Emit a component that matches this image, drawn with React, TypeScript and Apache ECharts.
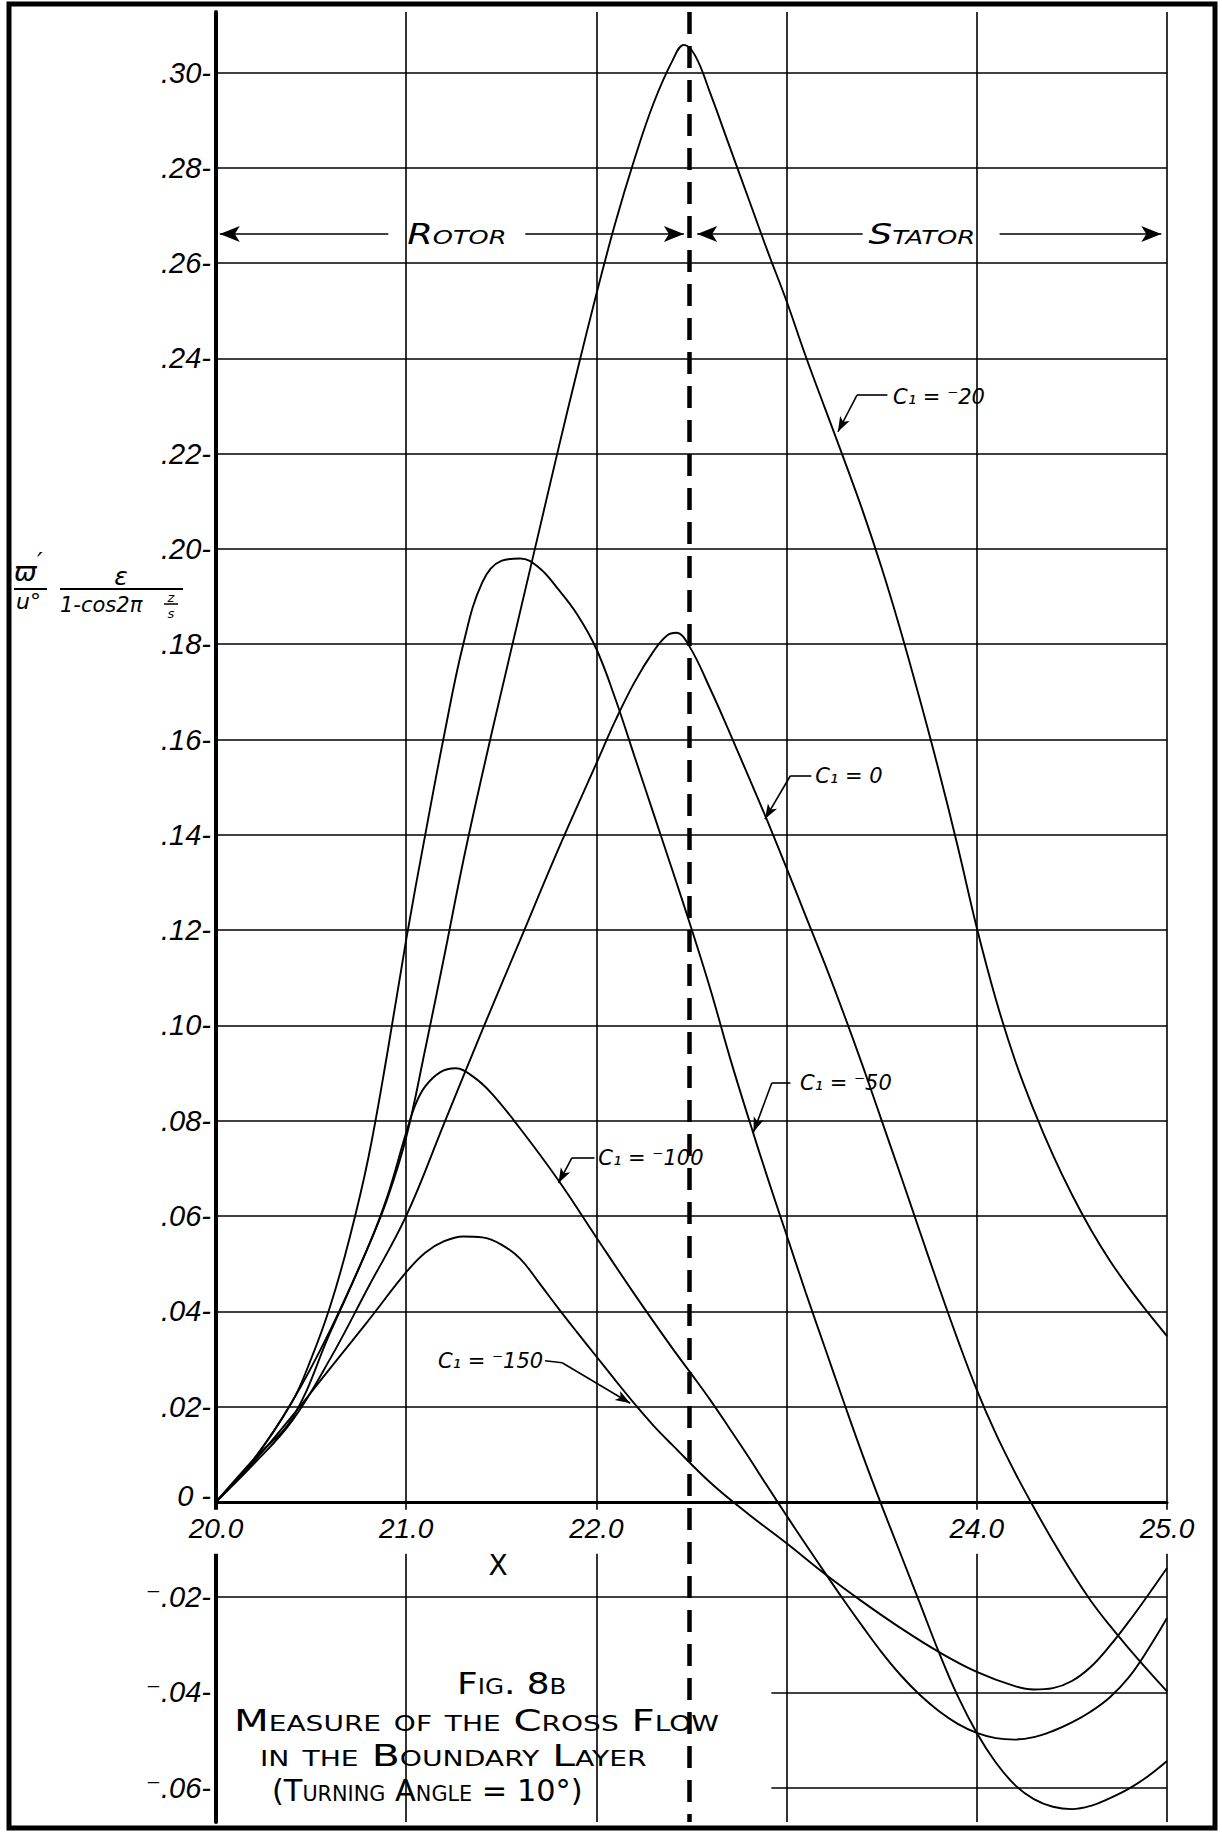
import React, { useEffect, useRef } from "react";
import * as echarts from "echarts";

const WIDTH = 1222;
const HEIGHT = 1837;

// ---------------- data ----------------
const xMin = 20;
const xMax = 25;
const yMin = -0.0672;
const yMax = 0.3127;
const xTickLabels = [20, 21, 22, 24, 25];
const yTickLabels = [-0.06, -0.04, -0.02, 0, 0.02, 0.04, 0.06, 0.08, 0.1, 0.12, 0.14, 0.16, 0.18, 0.2, 0.22, 0.24, 0.26, 0.28, 0.3];
const yGridFull = [-0.02, 0.02, 0.04, 0.06, 0.08, 0.1, 0.12, 0.14, 0.16, 0.18, 0.2, 0.22, 0.24, 0.26, 0.28, 0.3];
const yGridPartial = [-0.04, -0.06];
const partialGridStart = 22.92;
const rotorStatorBoundary = 22.49;
const seriesNames = ["C₁ = ⁻20", "C₁ = 0", "C₁ = ⁻50", "C₁ = ⁻100", "C₁ = ⁻150"];

const curveM20 = [
  [20.0, 0], [20.2, 0.009], [20.4, 0.021], [20.6, 0.036], [20.8, 0.0535], [20.9, 0.0635], [21.0, 0.0765],
  [21.1, 0.095], [21.2, 0.1145], [21.3, 0.1345], [21.4, 0.1527], [21.5, 0.17], [21.6, 0.187], [21.7, 0.204],
  [21.8, 0.221], [21.9, 0.2375], [22.0, 0.2535], [22.1, 0.2685], [22.2, 0.2818], [22.3, 0.2935], [22.4, 0.3025],
  [22.46, 0.3058], [22.52, 0.3035], [22.6, 0.2955], [22.7, 0.2845], [22.8, 0.2735], [22.9, 0.2625], [23.0, 0.252],
  [23.1, 0.2405], [23.2, 0.2297], [23.3, 0.219], [23.4, 0.208], [23.5, 0.196], [23.6, 0.1828], [23.7, 0.1685],
  [23.8, 0.1535], [23.9, 0.1375], [24.0, 0.1205], [24.1, 0.1055], [24.2, 0.0928], [24.3, 0.0822], [24.4, 0.0728],
  [24.5, 0.0645], [24.6, 0.0571], [24.7, 0.0506], [24.8, 0.0449], [24.9, 0.0397], [25.0, 0.0348],
];
const curve0 = [
  [20.0, 0], [20.2, 0.008], [20.4, 0.017], [20.6, 0.03], [20.8, 0.045], [21.0, 0.06], [21.2, 0.0795],
  [21.4, 0.099], [21.6, 0.118], [21.8, 0.137], [22.0, 0.155], [22.1, 0.164], [22.2, 0.172], [22.3, 0.1785],
  [22.37, 0.1818], [22.42, 0.1824], [22.49, 0.1795], [22.6, 0.1705], [22.7, 0.1615], [22.8, 0.1522], [22.9, 0.1428],
  [23.0, 0.133], [23.1, 0.123], [23.2, 0.113], [23.3, 0.1025], [23.4, 0.0915], [23.5, 0.08], [23.6, 0.0685],
  [23.7, 0.0568], [23.8, 0.0452], [23.9, 0.034], [24.0, 0.0235], [24.1, 0.0143], [24.2, 0.0062], [24.3, -0.0012],
  [24.4, -0.0082], [24.5, -0.0148], [24.6, -0.0208], [24.7, -0.026], [24.8, -0.0308], [24.9, -0.0354], [25.0, -0.0398],
];
const curveM50 = [
  [20.0, 0], [20.2, 0.009], [20.4, 0.021], [20.5, 0.03], [20.6, 0.041], [20.7, 0.055], [20.8, 0.072],
  [20.9, 0.094], [21.0, 0.118], [21.1, 0.14], [21.2, 0.161], [21.3, 0.18], [21.4, 0.193], [21.5, 0.1975],
  [21.6, 0.198], [21.7, 0.196], [21.8, 0.1915], [21.9, 0.1862], [22.0, 0.179], [22.1, 0.1685], [22.2, 0.1565],
  [22.3, 0.1445], [22.4, 0.1325], [22.5, 0.1203], [22.6, 0.1075], [22.7, 0.0935], [22.8, 0.0805], [22.9, 0.068],
  [23.0, 0.056], [23.1, 0.044], [23.2, 0.0325], [23.3, 0.021], [23.4, 0.0098], [23.5, -0.0008], [23.6, -0.011],
  [23.7, -0.0212], [23.8, -0.0315], [23.9, -0.0408], [24.0, -0.0485], [24.1, -0.0547], [24.2, -0.0594],
  [24.3, -0.0624], [24.4, -0.064], [24.5, -0.0645], [24.6, -0.0638], [24.7, -0.0622], [24.8, -0.0602],
  [24.9, -0.0576], [25.0, -0.0544],
];
const curveM100 = [
  [20.0, 0], [20.2, 0.009], [20.4, 0.0175], [20.6, 0.0355], [20.8, 0.0535], [20.9, 0.064], [21.0, 0.0775],
  [21.05, 0.0835], [21.1, 0.0872], [21.18, 0.0902], [21.26, 0.091], [21.35, 0.0893], [21.45, 0.0857],
  [21.6, 0.0783], [21.8, 0.0675], [22.0, 0.0555], [22.2, 0.0436], [22.4, 0.0322], [22.5, 0.0268], [22.6, 0.0213],
  [22.7, 0.0154], [22.8, 0.0094], [22.9, 0.0032], [23.0, -0.0029], [23.1, -0.0089], [23.2, -0.0148], [23.3, -0.0206],
  [23.4, -0.0262], [23.5, -0.0316], [23.6, -0.0364], [23.7, -0.0405], [23.8, -0.0439], [23.9, -0.0466],
  [24.0, -0.0485], [24.1, -0.0496], [24.2, -0.0499], [24.3, -0.0494], [24.4, -0.0481], [24.5, -0.0463],
  [24.6, -0.044], [24.7, -0.041], [24.8, -0.0368], [24.9, -0.031], [25.0, -0.0244],
];
const curveM150 = [
  [20.0, 0], [20.2, 0.0085], [20.4, 0.018], [20.6, 0.028], [20.8, 0.038], [21.0, 0.0482], [21.1, 0.0523],
  [21.2, 0.0547], [21.3, 0.0557], [21.4, 0.0555], [21.5, 0.054], [21.6, 0.051], [21.7, 0.0459], [21.8, 0.0406],
  [21.9, 0.0355], [22.0, 0.0305], [22.1, 0.0255], [22.2, 0.0206], [22.3, 0.016], [22.4, 0.0119], [22.6, 0.004],
  [22.8, -0.0026], [23.0, -0.0087], [23.2, -0.0151], [23.4, -0.021], [23.6, -0.0265], [23.8, -0.0315],
  [24.0, -0.0357], [24.2, -0.0387], [24.3, -0.0394], [24.4, -0.0391], [24.5, -0.0376], [24.6, -0.0346],
  [24.7, -0.0302], [24.8, -0.0251], [24.9, -0.0196], [25.0, -0.0139],
];
const curves = [curveM20, curve0, curveM50, curveM100, curveM150];

// ---------------- layout (annotation anchors in data units) ----------------
const regionY = 0.2661;
const regionArrows = [
  [[20.906, regionY], [20.02, regionY]],
  [[21.626, regionY], [22.46, regionY]],
  [[23.4, regionY], [22.53, regionY]],
  [[24.12, regionY], [24.97, regionY]],
];
const regionTexts = [
  { text: "Rotor", at: [21.005, regionY], width: 99 },
  { text: "Stator", at: [23.43, regionY], width: 107 },
];
const curveLabels = [
  { text: seriesNames[0], at: [23.56, 0.2319], align: "left", leader: [[23.53, 0.2323], [23.37, 0.2323], [23.27, 0.2246]] },
  { text: seriesNames[1], at: [23.15, 0.1524], align: "left", leader: [[23.13, 0.1524], [23.02, 0.1524], [22.886, 0.1433]] },
  { text: seriesNames[2], at: [23.07, 0.0879], align: "left", leader: [[23.02, 0.0879], [22.922, 0.0879], [22.826, 0.0776]] },
  { text: seriesNames[3], at: [22.01, 0.0722], align: "left", leader: [[21.99, 0.0722], [21.871, 0.0722], [21.801, 0.0669]] },
  { text: seriesNames[4], at: [21.72, 0.0296], align: "right", leader: [[21.73, 0.0296], [21.82, 0.0292], [22.178, 0.0207]] },
];

const NUM_FONT = "'Liberation Sans', 'DejaVu Sans', Arial, sans-serif";
const LET_FONT = "'DejaVu Sans', sans-serif";

function fmtY(v: number): string {
  const n = Math.round(v * 100);
  if (n === 0) return "{z|0 -}";
  const s = "." + String(Math.abs(n)).padStart(2, "0");
  return (n < 0 ? "⁻" : "") + s + "-";
}

function measure(text: string, font: string): number {
  const c = document.createElement("canvas").getContext("2d");
  if (!c) return 1;
  c.font = font;
  return c.measureText(text).width || 1;
}

function lineItem(a: number[], b: number[], arrow: boolean, size: number[]) {
  return [
    { coord: a, symbol: "none" },
    arrow ? { coord: b, symbol: "arrow", symbolSize: size } : { coord: b, symbol: "none" },
  ];
}

function buildOption(xOffset: number) {
  const gridLines: any[] = [];
  yGridFull.forEach((v) => gridLines.push([{ coord: [xMin, v] }, { coord: [xMax, v] }]));
  yGridPartial.forEach((v) => gridLines.push([{ coord: [partialGridStart, v] }, { coord: [xMax, v] }]));

  const arrowLines: any[] = [];
  regionArrows.forEach(([a, b]) => arrowLines.push(lineItem(a, b, true, [12, 20])));
  curveLabels.forEach((cl) => {
    for (let i = 0; i < cl.leader.length - 1; i++) {
      arrowLines.push(lineItem(cl.leader[i], cl.leader[i + 1], i === cl.leader.length - 2, [8, 15]));
    }
  });

  const curveSeries = curves.map((d, i) => ({
    name: seriesNames[i],
    type: "line",
    data: d,
    smooth: 0.4,
    symbol: "none",
    showSymbol: false,
    silent: true,
    lineStyle: { color: "#000", width: 1.9 },
    z: 3,
  }));

  return {
    animation: false,
    backgroundColor: "#ffffff",
    grid: {
      left: 216,
      right: WIDTH - 1167,
      top: 12,
      bottom: HEIGHT - 1822,
      containLabel: false,
      outerBoundsMode: "none",
    },
    xAxis: {
      type: "value",
      min: xMin,
      max: xMax,
      interval: 1,
      z: 5,
      position: "bottom",
      offset: xOffset,
      axisLine: { show: true, onZero: false, lineStyle: { color: "#000", width: 3 } },
      axisTick: { show: false },
      splitLine: { show: true, lineStyle: { color: "#000", width: 1.6 } },
      axisLabel: {
        customValues: xTickLabels,
        formatter: (v: number) => v.toFixed(1),
        color: "#000",
        fontFamily: NUM_FONT,
        fontStyle: "italic",
        fontSize: 28,
        margin: 8,
        padding: [4, 1, 10, 1],
        lineHeight: 30,
        backgroundColor: "#ffffff",
      },
    },
    yAxis: {
      type: "value",
      min: yMin,
      max: yMax,
      z: 2,
      axisLine: { show: true, onZero: false, lineStyle: { color: "#000", width: 4 } },
      axisTick: { show: false },
      splitLine: { show: false },
      axisLabel: {
        customValues: yTickLabels,
        formatter: fmtY,
        color: "#000",
        fontFamily: NUM_FONT,
        fontStyle: "italic",
        fontSize: 29,
        margin: 5,
        rich: {
          z: {
            color: "#000",
            fontFamily: NUM_FONT,
            fontStyle: "italic",
            fontSize: 29,
            lineHeight: 32,
            padding: [0, 0, 12, 0],
          },
        },
      },
    },
    series: [
      {
        name: "grid",
        type: "line",
        data: [],
        silent: true,
        z: 2,
        markLine: {
          silent: true,
          animation: false,
          symbol: ["none", "none"],
          label: { show: false },
          lineStyle: { color: "#000", width: 1.6, type: "solid" },
          emphasis: { disabled: true },
          data: gridLines,
        },
      },
      {
        name: "boundary",
        type: "line",
        data: [],
        silent: true,
        z: 4,
        markLine: {
          silent: true,
          animation: false,
          symbol: ["none", "none"],
          label: { show: false },
          lineStyle: { color: "#000", width: 4.5, type: [22, 12] },
          emphasis: { disabled: true },
          data: [[{ coord: [rotorStatorBoundary, yMax] }, { coord: [rotorStatorBoundary, yMin] }]],
        },
      },
      {
        name: "arrows",
        type: "line",
        data: [],
        silent: true,
        z: 4,
        markLine: {
          silent: true,
          animation: false,
          symbol: ["none", "none"],
          label: { show: false },
          lineStyle: { color: "#000", width: 1.6, type: "solid" },
          itemStyle: { color: "#000" },
          emphasis: { disabled: true },
          data: arrowLines,
        },
      },
      ...curveSeries,
    ],
  };
}

function textEl(text: string, x: number, y: number, font: string, align = "left", scaleX = 1) {
  return {
    type: "text",
    x,
    y,
    scaleX,
    z: 10,
    silent: true,
    style: {
      text,
      font,
      fill: "#000",
      align,
      verticalAlign: "middle",
      textAlign: align,
      textVerticalAlign: "middle",
    },
  };
}

function fitText(text: string, x: number, y: number, font: string, width: number, align = "left") {
  const w = measure(text, font);
  return textEl(text, x, y, font, align, width / w);
}

function lineEl(x1: number, y1: number, x2: number, y2: number, w = 2) {
  return { type: "line", z: 10, silent: true, shape: { x1, y1, x2, y2 }, style: { stroke: "#000", lineWidth: w } };
}

function buildGraphics(p: (x: number, y: number) => number[]) {
  const els: any[] = [];
  // outer frame
  els.push({
    type: "rect",
    z: 10,
    silent: true,
    shape: { x: 9, y: 4, width: 1206, height: 1824 },
    style: { fill: "none", stroke: "#000", lineWidth: 5 },
  });
  // y-axis quantity
  els.push(textEl("ϖ", 14, 571, "italic 27px " + LET_FONT));
  els.push(textEl("′", 37, 562, "italic 24px " + LET_FONT));
  els.push(lineEl(14, 589, 47, 589));
  els.push(textEl("u°", 16, 601, "italic 22px " + LET_FONT));
  els.push(textEl("ε", 121, 576, "italic 25px " + LET_FONT, "center"));
  els.push(lineEl(60, 589, 183, 589));
  els.push(textEl("1-cos2π", 60, 605, "italic 21px " + LET_FONT));
  els.push(textEl("z", 171, 597, "italic 13px " + LET_FONT, "center"));
  els.push(lineEl(164, 604, 178, 604, 1.5));
  els.push(textEl("s", 171, 613, "italic 13px " + LET_FONT, "center"));
  // x-axis name
  els.push(textEl("X", 498, 1565, "28px " + LET_FONT, "center"));
  // caption
  els.push(fitText("Fig. 8b", 457, 1683, "small-caps 31px " + LET_FONT, 111));
  els.push(fitText("Measure of the Cross Flow", 234, 1720, "small-caps 31px " + LET_FONT, 492));
  els.push(fitText("in the Boundary Layer", 260, 1755, "small-caps 31px " + LET_FONT, 396));
  els.push(fitText("(Turning Angle = 10°)", 272, 1790, "small-caps 31px " + LET_FONT, 316));
  // rotor / stator
  regionTexts.forEach((r) => {
    const [x, y] = p(r.at[0], r.at[1]);
    els.push(fitText(r.text, x, y, "italic small-caps 29px " + LET_FONT, r.width));
  });
  // curve labels
  curveLabels.forEach((c) => {
    const [x, y] = p(c.at[0], c.at[1]);
    els.push(textEl(c.text, x, y, "italic 21px " + LET_FONT, c.align));
  });
  return els;
}

export default function App() {
  const ref = useRef<HTMLDivElement>(null);
  useEffect(() => {
    const el = ref.current;
    if (!el) return;
    const chart = echarts.init(el, null, { renderer: "svg", width: WIDTH, height: HEIGHT });
    chart.setOption(buildOption(0) as any);
    const p = (x: number, y: number) => chart.convertToPixel({ gridIndex: 0 } as any, [x, y]) as number[];
    // move the x axis (line + labels) up to the zero line
    const zeroY = p(xMin, 0)[1];
    const bottomY = p(xMin, yMin)[1];
    chart.setOption(buildOption(-(bottomY - zeroY)) as any);
    chart.setOption({ graphic: { elements: buildGraphics(p) } } as any);
    return () => chart.dispose();
  }, []);
  return (
    <div
      ref={ref}
      style={{ position: "absolute", left: 0, top: 0, width: WIDTH, height: HEIGHT, background: "#fff" }}
    />
  );
}
